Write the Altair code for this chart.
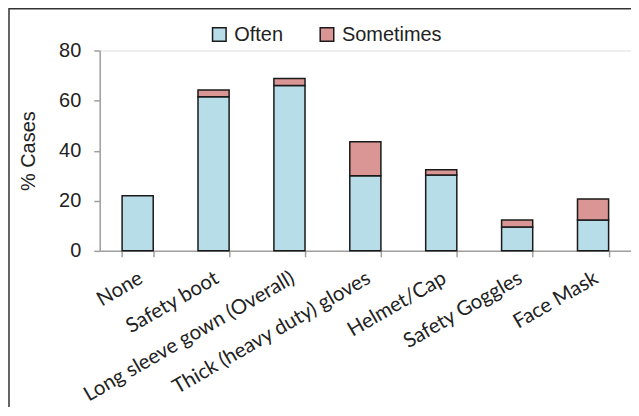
import altair as alt
import pandas as pd

categories = ["None", "Safety boot", "Long sleeve gown (Overall)", "Thick (heavy duty) gloves",
              "Helmet/Cap", "Safety Goggles", "Face Mask"]
often = [22, 61.5, 66, 30, 30.3, 9.5, 12.3]
sometimes = [0, 2.7, 2.8, 13.6, 2.1, 2.8, 8.4]
series = ["Often", "Sometimes"]
colors = ["#b7dde8", "#d99694"]

rows = []
for c, o, s in zip(categories, often, sometimes):
    rows.append({"cat": c, "series": "Often", "val": o, "ord": 0})
    if s > 0:
        rows.append({"cat": c, "series": "Sometimes", "val": s, "ord": 1})
df = pd.DataFrame(rows)

bars = alt.Chart(df).mark_bar(stroke="#1a1a1a", strokeWidth=1.5).encode(
    x=alt.X("cat:N", sort=categories, title=None,
            scale=alt.Scale(paddingInner=0.59, paddingOuter=0.295),
            axis=alt.Axis(labelAngle=-30, labelAlign="right", labelBaseline="top",
                          labelFont="Lato", labelFontSize=20.5, labelColor="#222", labelLimit=0,
                          domainColor="#a0a0a0", domainWidth=1.5, tickColor="#a0a0a0",
                          tickWidth=1.5, tickSize=6, tickBand="extent", labelPadding=11,
                          labelOffset=-2)),
    y=alt.Y("val:Q", stack="zero", title="% Cases",
            scale=alt.Scale(domain=[0, 80]),
            axis=alt.Axis(values=[0, 20, 40, 60, 80], grid=False,
                          labelFont="Liberation Sans", labelFontSize=20, labelColor="#222",
                          titleFont="Liberation Sans", titleFontSize=20, titleFontWeight="normal",
                          titleColor="#222", titlePadding=20,
                          domainColor="#a0a0a0", domainWidth=1.5, tickColor="#a0a0a0",
                          tickWidth=1.5, tickSize=6, labelPadding=13)),
    color=alt.Color("series:N", scale=alt.Scale(domain=series, range=colors),
                    legend=alt.Legend(title=None, orient="none", legendX=110, legendY=-26,
                                      direction="horizontal", symbolType="square",
                                      symbolSize=185, symbolStrokeColor="#1a1a1a",
                                      symbolStrokeWidth=1.5, labelFont="Liberation Sans",
                                      labelFontSize=20, labelColor="#222", columnPadding=34,
                                      labelOffset=5)),
    order=alt.Order("ord:Q"),
)

frame = alt.Chart(pd.DataFrame({"a": [0]})).mark_rect(
    fill=None, stroke="#333", strokeWidth=1.5
).encode(x=alt.value(-91), x2=alt.value(560), y=alt.value(-42), y2=alt.value(400))

chart = alt.layer(frame, bars).properties(
    width=533, height=201,
    autosize=alt.AutoSizeParams(type="none"),
    padding={"left": 92, "top": 42, "right": 0, "bottom": 156},
).configure_view(stroke=None).configure(background="white")

chart.save("out.html", embed_options={"renderer": "svg", "actions": False})
